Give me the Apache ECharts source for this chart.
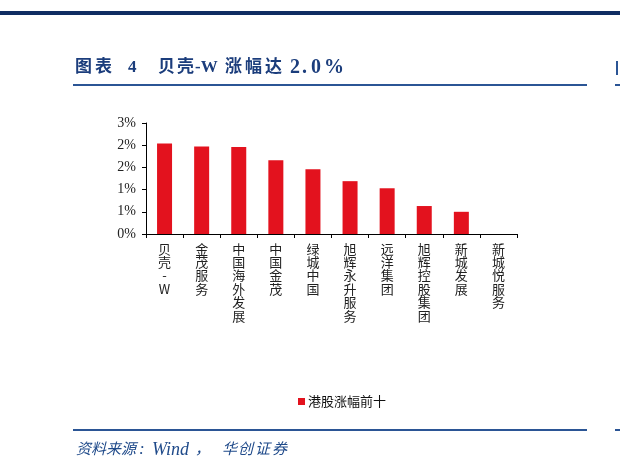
<!DOCTYPE html>
<html>
<head>
<meta charset="utf-8">
<script src="https://cdn.jsdelivr.net/npm/echarts@6/dist/echarts.min.js"></script>
<style>
html,body{margin:0;padding:0;background:#fff;}
#main{width:620px;height:471px;}
</style>
</head>
<body>
<div id="main"></div>
<script>
var categories = ['贝壳-W','金茂服务','中国海外发展','中国金茂','绿城中国','旭辉永升服务','远洋集团','旭辉控股集团','新城发展','新城悦服务'];
var seriesName = '港股涨幅前十';
var values = [2.04, 1.97, 1.96, 1.66, 1.46, 1.19, 1.03, 0.63, 0.50, 0];
var yTicks = [0, 0.5, 1, 1.5, 2, 2.5];
var titleText = '图表 4 贝壳-W 涨幅达 2.0%';
var sourceText = '资料来源：Wind，华创证券';

var serif = 'Liberation Serif, "Times New Roman", "Noto Sans CJK SC", serif';

// title / source pieces laid out with the spacing of the reference: [text, x, fontSize]
var titlePieces = [['图',75,17],['表',95,17],['4',128,17],['贝',158,17],['壳',177,17],['-W',195,17],['涨',225,17],['幅',245,17],['达',265,17],['2',290,20],['.',302,20],['0',311,20],['%',324,20]];
var sourcePieces = [['资',76,15],['料',91,15],['来',106,15],['源',121,15],[':',139,17],['Wind',152,18],['，',195,15],['华',222,15],['创',238,15],['证',255,15],['券',272,15]];

var graphics = [
  {type: 'rect', shape: {x: 0, y: 11, width: 620, height: 4}, style: {fill: '#0f2d62'}},
  {type: 'rect', shape: {x: 73, y: 84, width: 514, height: 2}, style: {fill: '#2b5595'}},
  {type: 'rect', shape: {x: 615, y: 84, width: 5, height: 2}, style: {fill: '#2b5595'}},
  {type: 'rect', shape: {x: 616, y: 61, width: 2, height: 14}, style: {fill: '#2b5595'}},
  {type: 'rect', shape: {x: 73, y: 429, width: 514, height: 2}, style: {fill: '#2b5595'}},
  {type: 'rect', shape: {x: 615, y: 429, width: 5, height: 2}, style: {fill: '#2b5595'}}
];
titlePieces.forEach(function (p) {
  graphics.push({type: 'text', x: p[1], y: 68, style: {text: p[0], font: 'bold ' + p[2] + 'px ' + serif, fill: '#1b3d7c', verticalAlign: 'middle'}});
});
sourcePieces.forEach(function (p) {
  graphics.push({type: 'text', x: p[1], y: 450, style: {text: p[0], font: 'italic ' + p[2] + 'px ' + serif, fill: '#1f4a8a', verticalAlign: 'middle'}});
});

var chart = echarts.init(document.getElementById('main'), null, {renderer:'canvas'});
var option = {
  animation: false,
  backgroundColor: '#fff',
  grid: {left: 146, right: 103, top: 123, bottom: 237, containLabel: false},
  xAxis: {
    type: 'category',
    data: categories,
    axisLine: {lineStyle: {color: '#000', width: 1}},
    axisTick: {show: true, length: 4, inside: false, lineStyle: {color: '#000'}},
    axisLabel: {
      interval: 0,
      margin: 8,
      color: '#222',
      fontSize: 13,
      lineHeight: 13.4,
      fontFamily: '"Noto Sans CJK SC", sans-serif',
      verticalAlign: 'top',
      formatter: function (v) { return v.split('').join('\n'); }
    }
  },
  yAxis: {
    type: 'value',
    min: yTicks[0],
    max: yTicks[yTicks.length - 1],
    interval: yTicks[1] - yTicks[0],
    splitLine: {show: false},
    axisLine: {show: true, lineStyle: {color: '#000', width: 1}},
    axisTick: {show: true, length: 4, lineStyle: {color: '#000'}},
    axisLabel: {
      margin: 10,
      color: '#222',
      fontSize: 14,
      fontFamily: serif,
      formatter: function (v) { return Math.round(v) + '%'; }
    }
  },
  legend: {
    data: [seriesName],
    left: 293,
    top: 390,
    icon: 'rect',
    itemWidth: 7,
    itemHeight: 7,
    itemGap: 4,
    textStyle: {fontSize: 13, color: '#111', fontFamily: '"Noto Sans CJK SC", sans-serif', padding: [0,0,0,-2]}
  },
  series: [{
    name: seriesName,
    type: 'bar',
    data: values,
    barWidth: 15,
    itemStyle: {color: '#e3121e'}
  }],
  graphic: graphics
};
chart.setOption(option);
</script>
</body>
</html>
